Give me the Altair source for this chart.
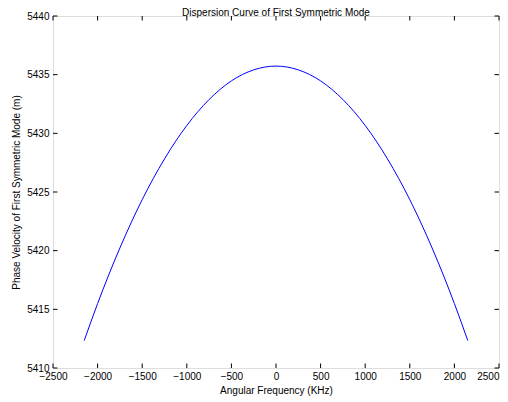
import altair as alt
import pandas as pd

# Values
freq_khz = [-2150, -2000, -1750, -1500, -1250, -1000, -750, -500, -250, 0,
            250, 500, 750, 1000, 1250, 1500, 1750, 2000, 2150]
phase_vel = [5412.34, 5415.49, 5420.23, 5424.35, 5427.82, 5430.67, 5432.88, 5434.47, 5435.41, 5435.73,
             5435.41, 5434.47, 5432.88, 5430.67, 5427.82, 5424.35, 5420.23, 5415.49, 5412.34]
x_ticks = [-2500, -2000, -1500, -1000, -500, 0, 500, 1000, 1500, 2000, 2500]
y_ticks = [5410, 5415, 5420, 5425, 5430, 5435, 5440]
chart_title = ["Dispersion Curve of First Symmetric Mode"]

W, H = 446, 352
FONT = "Liberation Sans"
TL = 4.5

df = pd.DataFrame({"f": freq_khz, "v": phase_vel})
xt = pd.DataFrame({"t": x_ticks})
yt = pd.DataFrame({"t": y_ticks})
tt = pd.DataFrame({"title": chart_title})

xscale = alt.Scale(domain=[-2500, 2500], nice=False)
yscale = alt.Scale(domain=[5410, 5440], nice=False, zero=False)

line = alt.Chart(df).mark_line(color="#0000ff", strokeWidth=1, interpolate="monotone").encode(
    x=alt.X("f:Q", scale=xscale,
            axis=alt.Axis(values=x_ticks, format="d", labelOverlap=False, ticks=False, domain=False,
                          grid=False, labelPadding=3, labelFont=FONT, labelFontSize=10,
                          labelColor="black", labelFlush=False,
                          labelAlign=alt.condition("datum.value >= 2500", alt.value("right"),
                                                   alt.value("center")),
                          title="Angular Frequency (KHz)", titleFont=FONT, titleFontSize=10,
                          titleFontWeight="normal", titleColor="black",
                          titleX=W / 2, titleY=22, titleBaseline="middle")),
    y=alt.Y("v:Q", scale=yscale,
            axis=alt.Axis(values=y_ticks, format="d", labelOverlap=False, ticks=False, domain=False,
                          grid=False, labelPadding=4, labelFont=FONT, labelFontSize=10,
                          labelColor="black", labelFlush=False,
                          title="Phase Velocity of First Symmetric Mode (m)", titleFont=FONT,
                          titleFontSize=10, titleFontWeight="normal", titleColor="black",
                          titleAngle=-90, titleX=-37, titleY=H / 2, titleBaseline="middle",
                          titleAlign="center")),
)

title_mark = alt.Chart(tt).mark_text(font=FONT, fontSize=10, color="black", baseline="alphabetic",
                                     align="center").encode(
    text="title:N", x=alt.value(W / 2), y=alt.value(-0.5))

tick_bottom = alt.Chart(xt).mark_rule(color="black", strokeWidth=1).encode(
    x=alt.X("t:Q", scale=xscale), y=alt.value(H), y2=alt.value(H - TL))
tick_top = alt.Chart(xt).mark_rule(color="black", strokeWidth=1).encode(
    x=alt.X("t:Q", scale=xscale), y=alt.value(0), y2=alt.value(TL))
tick_left = alt.Chart(yt).mark_rule(color="black", strokeWidth=1).encode(
    y=alt.Y("t:Q", scale=yscale), x=alt.value(0), x2=alt.value(TL))
tick_right = alt.Chart(yt).mark_rule(color="black", strokeWidth=1).encode(
    y=alt.Y("t:Q", scale=yscale), x=alt.value(W), x2=alt.value(W - TL))

chart = alt.layer(line, tick_bottom, tick_top, tick_left, tick_right, title_mark).properties(
    width=W, height=H,
    autosize=alt.AutoSizeParams(type="none"),
    padding={"left": 45, "top": 8, "right": 1, "bottom": 30},
).configure_view(stroke="black", strokeWidth=1).configure(background="white")

chart.save("out.html", embed_options={"renderer": "svg", "actions": False})
